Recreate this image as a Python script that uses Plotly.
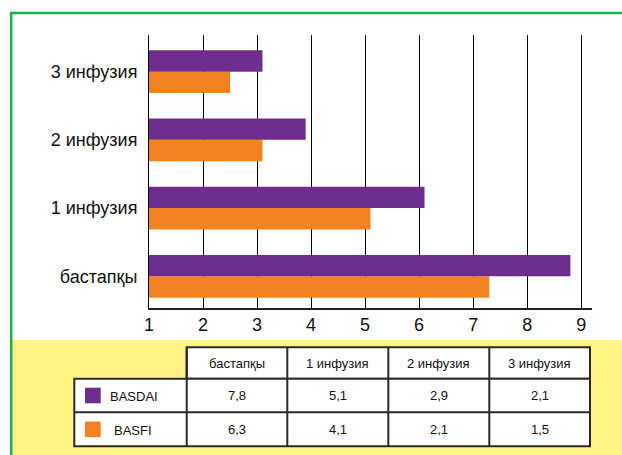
import plotly.graph_objects as go

# ---- data ----
categories = ["бастапқы", "1 инфузия", "2 инфузия", "3 инфузия"]
basdai = [7.8, 5.1, 2.9, 2.1]
basfi = [6.3, 4.1, 2.1, 1.5]
series_names = ["BASDAI", "BASFI"]
x_ticks = [1, 2, 3, 4, 5, 6, 7, 8, 9]
baseline = 1

# ---- style ----
PURPLE = "#6E2C8F"
ORANGE = "#F38222"
YELLOW = "#FFF482"
GREEN = "#18B24C"
LINE = "#2a2a2a"

W, H = 622, 455
L, R, T, B = 149, 30, 35, 147
PW, PH = W - L - R, H - T - B


def px(x):
    return (x - L) / PW


def py(y):
    return (H - B - y) / PH


fig = go.Figure()
fig.add_trace(go.Bar(y=categories, x=basfi, base=baseline, orientation="h",
                     name=series_names[1], marker=dict(color=ORANGE, line_width=0)))
fig.add_trace(go.Bar(y=categories, x=basdai, base=baseline, orientation="h",
                     name=series_names[0], marker=dict(color=PURPLE, line_width=0)))

shapes = []
# yellow band
shapes.append(dict(type="rect", xref="paper", yref="paper", x0=px(12.5), x1=px(630),
                   y0=py(340), y1=py(460), fillcolor=YELLOW, line_width=0, layer="below"))
# green frame
shapes.append(dict(type="line", xref="paper", yref="paper", x0=px(10), x1=px(630),
                   y0=py(13), y1=py(13), line=dict(color=GREEN, width=2.5)))
shapes.append(dict(type="line", xref="paper", yref="paper", x0=px(11.2), x1=px(11.2),
                   y0=py(12), y1=py(460), line=dict(color=GREEN, width=2.5)))

# table geometry (pixels)
col_edges = [74.3, 186.7, 287.3, 388.3, 489.3, 590]
row_edges = [347.3, 378.7, 412.3, 446.3]
# white cells
shapes.append(dict(type="rect", xref="paper", yref="paper", x0=px(col_edges[1]), x1=px(col_edges[-1]),
                   y0=py(row_edges[0]), y1=py(row_edges[1]), fillcolor="white",
                   line=dict(color=LINE, width=2)))
shapes.append(dict(type="rect", xref="paper", yref="paper", x0=px(col_edges[0]), x1=px(col_edges[-1]),
                   y0=py(row_edges[1]), y1=py(row_edges[3]), fillcolor="white",
                   line=dict(color=LINE, width=2)))
shapes.append(dict(type="line", xref="paper", yref="paper", x0=px(col_edges[0]), x1=px(col_edges[-1]),
                   y0=py(row_edges[2]), y1=py(row_edges[2]), line=dict(color=LINE, width=2)))
for ce in col_edges[1:-1]:
    shapes.append(dict(type="line", xref="paper", yref="paper", x0=px(ce), x1=px(ce),
                       y0=py(row_edges[0]), y1=py(row_edges[3]), line=dict(color=LINE, width=2)))

annotations = []
tfont = dict(family="Liberation Sans, Arial, sans-serif", size=13, color="#111")
# header
for i, c in enumerate(categories):
    cx = (col_edges[i + 1] + col_edges[i + 2]) / 2
    annotations.append(dict(xref="paper", yref="paper", x=px(cx), y=py(363), text=c,
                            showarrow=False, font=tfont, xanchor="center", yanchor="middle"))
rows = [(series_names[0], basdai, PURPLE, 108), (series_names[1], basfi, ORANGE, 112)]
for r, (name, vals, col, tx) in enumerate(rows):
    ry0, ry1 = row_edges[r + 1], row_edges[r + 2]
    cy = (ry0 + ry1) / 2
    shapes.append(dict(type="rect", xref="paper", yref="paper", x0=px(85), x1=px(100.7),
                       y0=py(cy - 7.8), y1=py(cy + 7.8), fillcolor=col, line_width=0))
    annotations.append(dict(xref="paper", yref="paper", x=px(tx), y=py(cy + 1), text=name,
                            showarrow=False, font=tfont, xanchor="left", yanchor="middle"))
    for i, v in enumerate(vals):
        cx = (col_edges[i + 1] + col_edges[i + 2]) / 2
        annotations.append(dict(xref="paper", yref="paper", x=px(cx), y=py(cy), text=f"{v:.1f}".replace(".", ","),
                                showarrow=False, font=tfont, xanchor="center", yanchor="middle"))

fig.update_layout(
    width=W, height=H,
    margin=dict(l=L, r=R, t=T, b=B, pad=0),
    paper_bgcolor="white", plot_bgcolor="white",
    barmode="group", bargap=0.375, bargroupgap=0,
    showlegend=False,
    shapes=shapes, annotations=annotations,
    xaxis=dict(range=[1, 9.2], tickvals=x_ticks, showgrid=True, gridcolor="black", gridwidth=1,
               showline=True, linecolor="#222", linewidth=1.5, zeroline=False, ticks="",
               tickfont=dict(family="Liberation Sans Narrow, Arial Narrow, Liberation Sans, sans-serif",
                             size=18, color="#111")),
    yaxis=dict(type="category", range=[-0.464, 3.537], showgrid=False, showline=True,
               linecolor="black", linewidth=1, ticks="", ticklabelstandoff=7,
               tickfont=dict(family="Liberation Sans, Arial, sans-serif", size=18, color="#111")),
)

fig.write_html("out.html")
